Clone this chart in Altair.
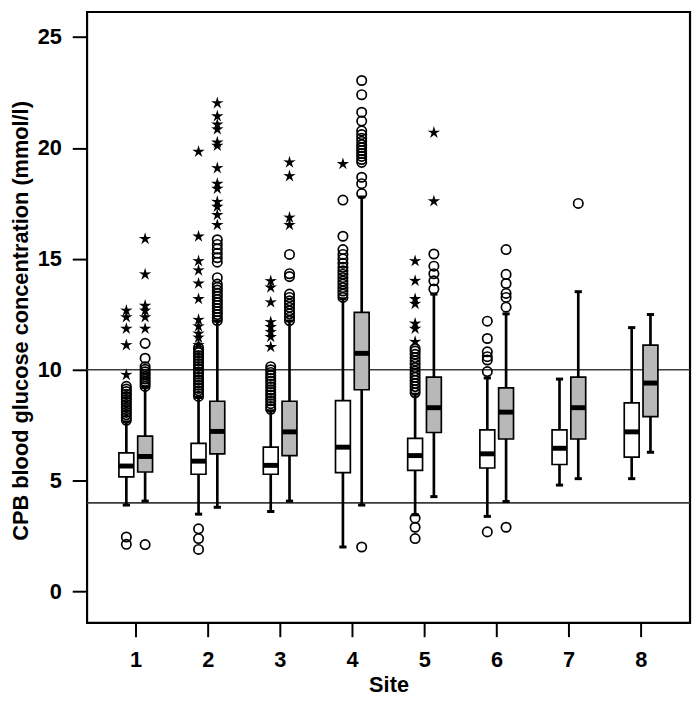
import altair as alt
import pandas as pd

# ---------------- data ----------------
sites = [1, 2, 3, 4, 5, 6, 7, 8]

# white boxes (first group at each site)
white_lo  = [3.90, 3.49, 3.61, 2.01, 3.46, 3.39, 4.80, 5.09]
white_q1  = [5.17, 5.29, 5.29, 5.36, 5.46, 5.57, 5.73, 6.06]
white_med = [5.66, 5.88, 5.69, 6.51, 6.13, 6.21, 6.46, 7.20]
white_q3  = [6.25, 6.68, 6.51, 8.61, 6.91, 7.29, 7.29, 8.51]
white_hi  = [7.65, 8.75, 8.15, 13.20, 8.90, 9.63, 9.58, 11.90]

# grey boxes (second group at each site)
gray_lo  = [4.08, 3.80, 4.08, 3.90, 4.28, 4.06, 5.09, 6.28]
gray_q1  = [5.39, 6.21, 6.13, 9.10, 7.17, 6.88, 6.88, 7.89]
gray_med = [6.09, 7.22, 7.20, 10.74, 8.29, 8.09, 8.29, 9.40]
gray_q3  = [7.01, 8.58, 8.58, 12.59, 9.67, 9.18, 9.67, 11.11]
gray_hi  = [9.20, 12.20, 12.20, 17.79, 13.41, 12.52, 13.52, 12.49]

# outliers (circles) and extreme values (stars), per site
white_circles = {
    1: [2.13, 2.46, 7.72, 7.85, 7.97, 8.08, 8.2, 8.31, 8.43, 8.55, 8.66, 8.78, 8.9, 9.02, 9.13, 9.25],
    2: [1.90, 2.39, 2.83, 8.8, 8.92, 9.05, 9.16, 9.3, 9.41, 9.55, 9.66, 9.8, 9.9, 10.04, 10.15,
        10.28, 10.4, 10.52, 10.64, 10.77, 10.88, 11.0],
    3: [8.22, 8.34, 8.47, 8.6, 8.72, 8.85, 8.97, 9.1, 9.23, 9.36, 9.48, 9.61, 9.74, 9.88, 10.0, 10.14],
    4: [13.26, 13.41, 13.55, 13.7, 13.86, 14.0, 14.15, 14.31, 14.46, 14.62, 14.8, 15.0, 15.2, 15.42,
        16.02, 17.65],
    5: [2.39, 2.90, 3.31, 8.96, 9.1, 9.24, 9.38, 9.52, 9.66, 9.8, 9.94, 10.1, 10.25, 10.4, 10.55,
        10.7, 10.84, 10.96],
    6: [2.69, 9.92, 10.44, 10.59, 10.81, 11.41, 12.19],
    7: [],
    8: [],
}
white_stars = {
    1: [9.77, 11.11, 11.85, 12.37, 12.67],
    2: [11.11, 11.45, 11.63, 11.96, 12.25, 13.19, 13.89, 14.48, 14.90, 16.01, 19.83],
    3: [11.03, 11.48, 11.70, 11.93, 12.15, 13.04, 13.71, 14.0],
    4: [19.28],
    5: [11.26, 11.85, 12.08, 12.97, 13.19, 14.01, 14.90],
    6: [], 7: [], 8: [],
}
gray_circles = {
    1: [2.12, 9.25, 9.36, 9.47, 9.58, 9.69, 9.8, 9.91, 10.02, 10.14, 10.52, 11.19],
    2: [12.22, 12.35, 12.49, 12.62, 12.76, 12.9, 13.03, 13.17, 13.31, 13.45, 13.59, 13.72, 13.86,
        14.15, 14.85, 15.05, 15.25, 15.45, 15.65, 15.86],
    3: [12.22, 12.37, 12.52, 12.66, 12.81, 12.96, 13.11, 13.26, 13.41, 14.2, 14.33, 15.2],
    4: [2.01, 17.94, 18.39, 18.68, 19.35, 19.48, 19.62, 19.75, 19.88, 20.02, 20.15, 20.3, 20.44,
        20.6, 20.77, 21.21, 21.61, 22.40, 23.04],
    5: [13.64, 14.01, 14.33, 14.67, 15.22],
    6: [2.90, 12.82, 13.26, 13.44, 13.89, 14.30, 15.42],
    7: [17.50],
    8: [],
}
gray_stars = {
    1: [11.85, 12.37, 12.67, 12.89, 14.3, 15.9],
    2: [16.53, 16.98, 17.35, 17.57, 18.16, 18.39, 19.09, 20.10, 20.25, 20.84, 21.06, 21.43, 22.02],
    3: [16.53, 16.86, 18.73, 19.35],
    4: [], 5: [17.60, 20.69], 6: [], 7: [], 8: [],
}

ref_levels = [4, 10]
y_ticks = [0, 5, 10, 15, 20, 25]

# ---------------- layout constants ----------------
OFFSET = {"white": -0.127, "gray": 0.133}
FILL = {"white": "#ffffff", "gray": "#b8b8b8"}
BOX_HALF = 0.103
CAP_HALF = 0.05
STAR = ("M0,-1L0.21,-0.29L0.951,-0.309L0.34,0.11L0.588,0.809L0,0.36L-0.588,0.809"
        "L-0.34,0.11L-0.951,-0.309L-0.21,-0.29Z")
FONT = "Liberation Sans"

box_rows = []
groups = {
    "white": (white_lo, white_q1, white_med, white_q3, white_hi),
    "gray": (gray_lo, gray_q1, gray_med, gray_q3, gray_hi),
}
for g, (lo, q1, med, q3, hi) in groups.items():
    for i, s in enumerate(sites):
        p = s + OFFSET[g]
        box_rows.append(dict(site=s, group=g, pos=p, box_l=p - BOX_HALF, box_r=p + BOX_HALF,
                             cap_l=p - CAP_HALF, cap_r=p + CAP_HALF,
                             lo=lo[i], q1=q1[i], med=med[i], q3=q3[i], hi=hi[i]))
boxes = pd.DataFrame(box_rows)

out_rows = []
for g, circ, star in [("white", white_circles, white_stars), ("gray", gray_circles, gray_stars)]:
    for s in sites:
        for v in circ[s]:
            out_rows.append(dict(pos=s + OFFSET[g], value=v, kind="circle"))
        for v in star[s]:
            out_rows.append(dict(pos=s + OFFSET[g], value=v, kind="star"))
outl = pd.DataFrame(out_rows)
refs = pd.DataFrame({"level": ref_levels})

# ---------------- scales / axes ----------------
xs = alt.Scale(domain=[0.329, 8.681], nice=False, zero=False)
ys = alt.Scale(domain=[-1.41, 26.13], nice=False, zero=False)

x_axis = alt.Axis(values=sites, format="d", title="Site", grid=False, domain=False,
                  tickSize=14, tickWidth=2, tickColor="black", labelPadding=13,
                  labelFont=FONT, labelFontSize=22, labelFontWeight="bold", labelColor="black",
                  titleFont=FONT, titleFontSize=22, titleFontWeight="bold", titleColor="black",
                  titleY=52, titleBaseline="top")
y_axis = alt.Axis(values=y_ticks, format="d", title="CPB blood glucose concentration (mmol/l)",
                  grid=False, domain=False, tickSize=15, tickWidth=2, tickColor="black",
                  labelPadding=11, labelFont=FONT, labelFontSize=22, labelFontWeight="bold",
                  labelColor="black", titleFont=FONT, titleFontSize=22, titleFontWeight="bold",
                  titleColor="black", titleX=-55, titleY=312, titleBaseline="bottom",
                  titleAngle=270)

X = lambda f: alt.X(f, type="quantitative", scale=xs, axis=x_axis)
Y = lambda f: alt.Y(f, type="quantitative", scale=ys, axis=y_axis)

ref_lines = alt.Chart(refs).mark_rule(color="#3a3a3a", strokeWidth=1.6).encode(y=Y("level"))

whiskers = alt.Chart(boxes).mark_rule(color="black", strokeWidth=2.7).encode(
    x=X("pos"), y=Y("lo"), y2="hi")
cap_lo = alt.Chart(boxes).mark_rule(color="black", strokeWidth=3).encode(
    x=X("cap_l"), x2="cap_r", y=Y("lo"))
cap_hi = alt.Chart(boxes).mark_rule(color="black", strokeWidth=3).encode(
    x=X("cap_l"), x2="cap_r", y=Y("hi"))
box = alt.Chart(boxes).mark_rect(stroke="black", strokeWidth=1.7).encode(
    x=X("box_l"), x2="box_r", y=Y("q1"), y2="q3",
    fill=alt.Fill("group:N", scale=alt.Scale(domain=list(FILL), range=list(FILL.values())),
                  legend=None))
median = alt.Chart(boxes).mark_rule(color="black", strokeWidth=5).encode(
    x=X("box_l"), x2="box_r", y=Y("med"))
circles = alt.Chart(outl).transform_filter(alt.datum.kind == "circle").mark_point(
    shape="circle", filled=False, stroke="black", strokeWidth=1.7, size=90, opacity=1).encode(
    x=X("pos"), y=Y("value"))
stars = alt.Chart(outl).transform_filter(alt.datum.kind == "star").mark_point(
    shape=STAR, filled=True, fill="black", size=175, opacity=1, strokeWidth=0).encode(
    x=X("pos"), y=Y("value"))

chart = alt.layer(ref_lines, whiskers, box, median, cap_lo, cap_hi, circles, stars).properties(
    width=610, height=618,
    autosize=alt.AutoSizeParams(type="none"),
    padding={"left": 80, "top": 0, "right": 2, "bottom": 72},
    background="white",
).configure_view(stroke="black", strokeWidth=2.2, strokeOpacity=1)

chart.save("out.html", embed_options={"renderer": "svg", "actions": False})
